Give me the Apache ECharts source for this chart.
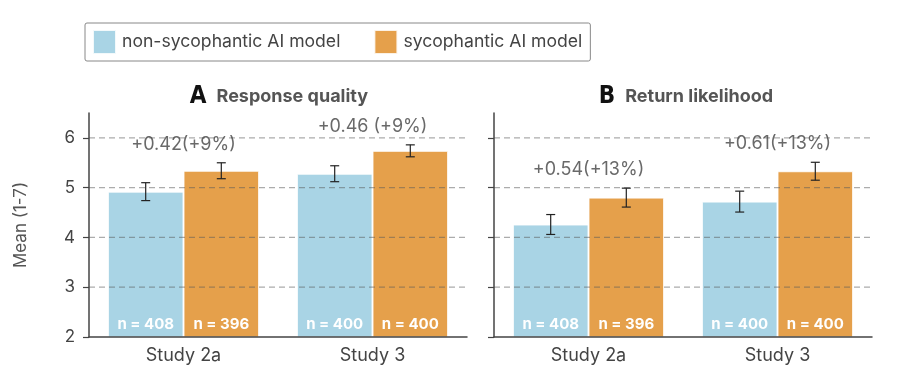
<!DOCTYPE html>
<html>
<head>
<meta charset="utf-8">
<script src="https://cdn.jsdelivr.net/npm/echarts@6/dist/echarts.min.js"></script>
<style>html,body{margin:0;padding:0;background:#fff}#c{width:920px;height:380px}</style>
</head>
<body>
<div id="c"></div>
<script>
// ---- data ----
const categories = ['Study 2a', 'Study 3'];
const seriesNames = ['non-sycophantic AI model', 'sycophantic AI model'];
// Panel A: Response quality
const rqNon = [4.92, 5.28];
const rqSyc = [5.34, 5.74];
const rqNonErr = [0.18, 0.16];
const rqSycErr = [0.16, 0.12];
const rqAnnot = ['+0.42(+9%)', '+0.46 (+9%)'];
// Panel B: Return likelihood
const rlNon = [4.26, 4.72];
const rlSyc = [4.80, 5.33];
const rlNonErr = [0.20, 0.21];
const rlSycErr = [0.19, 0.18];
const rlAnnot = ['+0.54(+13%)', '+0.61(+13%)'];
// sample sizes
const nNon = [408, 400];
const nSyc = [396, 400];
const yTicks = [2, 3, 4, 5, 6];
const gridValues = [3, 4, 5, 6];

// ---- styles ----
const FONT = 'Inter, "Noto Sans", sans-serif';
const BLUE = '#a9d4e5';
const ORANGE = '#e5a04b';
const AXIS = '#444';
const GRID_L = [89, 494];

function errRender(sign) {
  return function (params, api) {
    const x = api.value(0), m = api.value(1), e = api.value(2);
    const band = api.size([1, 0])[0];
    const dx = sign * band * 0.8 / 4;
    const t = api.coord([x, m + e]);
    const b = api.coord([x, m - e]);
    const cx = t[0] + dx, cap = 4.5;
    const st = { stroke: '#222', lineWidth: 1.2 };
    return {
      type: 'group',
      children: [
        { type: 'line', shape: { x1: cx, y1: t[1], x2: cx, y2: b[1] }, style: st },
        { type: 'line', shape: { x1: cx - cap, y1: t[1], x2: cx + cap, y2: t[1] }, style: st },
        { type: 'line', shape: { x1: cx - cap, y1: b[1], x2: cx + cap, y2: b[1] }, style: st }
      ]
    };
  };
}

function gridRender(params, api) {
  const cs = params.coordSys;
  const y = api.coord([0, api.value(1)])[1];
  return {
    type: 'line',
    shape: { x1: cs.x, y1: y, x2: cs.x + cs.width, y2: y },
    style: { stroke: 'rgba(90,90,90,0.5)', lineWidth: 1.3, lineDash: [6, 4] }
  };
}

function panel(idx, non, syc, nonErr, sycErr, annot) {
  const nLabel = (arr) => ({
    show: true, position: 'insideBottom', distance: 6,
    formatter: (p) => 'n = ' + arr[p.dataIndex],
    color: '#fff', fontFamily: FONT, fontWeight: 'bold', fontSize: 15
  });
  return [
    {
      name: seriesNames[0], type: 'bar', xAxisIndex: idx, yAxisIndex: idx,
      data: non, barGap: '0%', barCategoryGap: '20%', z: 2,
      itemStyle: { color: BLUE, borderColor: 'rgba(255,255,255,0.85)', borderWidth: 1 },
      label: nLabel(nNon)
    },
    {
      name: seriesNames[1], type: 'bar', xAxisIndex: idx, yAxisIndex: idx,
      data: syc, barGap: '0%', barCategoryGap: '20%', z: 2,
      itemStyle: { color: ORANGE, borderColor: 'rgba(255,255,255,0.85)', borderWidth: 1 },
      label: nLabel(nSyc)
    },
    {
      type: 'custom', xAxisIndex: idx, yAxisIndex: idx, z: 5,
      renderItem: gridRender, encode: { x: 0, y: 1 }, clip: false,
      data: gridValues.map((v) => [0, v]), silent: true
    },
    {
      type: 'custom', xAxisIndex: idx, yAxisIndex: idx, z: 6,
      renderItem: errRender(-1), encode: { x: 0, y: 1 },
      data: non.map((v, i) => [i, v, nonErr[i]]), silent: true
    },
    {
      type: 'custom', xAxisIndex: idx, yAxisIndex: idx, z: 6,
      renderItem: errRender(1), encode: { x: 0, y: 1 },
      data: syc.map((v, i) => [i, v, sycErr[i]]), silent: true
    },
    {
      type: 'scatter', xAxisIndex: idx, yAxisIndex: idx, z: 6, symbolSize: 0, silent: true,
      data: syc.map((v, i) => [i, Math.max(v + sycErr[i], non[i] + nonErr[i]) + 0.37]),
      label: {
        show: true, position: 'inside',
        formatter: (p) => annot[p.dataIndex],
        color: '#444', fontFamily: FONT, fontSize: 18
      }
    }
  ];
}

const titleRich = {
  a: { fontFamily: '"Liberation Sans Narrow", "DejaVu Sans Condensed", sans-serif', fontWeight: 'bold', fontSize: 24, color: '#111' },
  b: { fontFamily: FONT, fontWeight: 'bold', fontSize: 18, color: '#555' }
};

const option = {
  animation: false,
  backgroundColor: '#fff',
  title: [
    { left: 274, top: 80, textAlign: 'center', text: '{a|A}  {b|Response quality}', textStyle: { rich: titleRich } },
    { left: 681, top: 80, textAlign: 'center', text: '{a|B}  {b|Return likelihood}', textStyle: { rich: titleRich } }
  ],
  legend: {
    data: seriesNames, left: 85, top: 23, orient: 'horizontal',
    icon: 'rect', itemWidth: 23, itemHeight: 24, itemGap: 33,
    padding: [6, 8, 6, 7], borderColor: '#888', borderWidth: 1, borderRadius: 2,
    textStyle: { fontFamily: FONT, fontSize: 17.6, color: '#444', padding: [0, 0, 0, 1] }
  },
  grid: [
    { left: GRID_L[0], top: 113, width: 378, height: 224 },
    { left: GRID_L[1], top: 113, width: 378, height: 224 }
  ],
  xAxis: [0, 1].map((i) => ({
    type: 'category', gridIndex: i, data: categories, z: 5,
    axisLine: { lineStyle: { color: AXIS, width: 1.5 } },
    axisTick: { alignWithLabel: true, length: 5, lineStyle: { color: AXIS, width: 1.2 } },
    axisLabel: { fontFamily: FONT, fontSize: 18, color: '#444', margin: 10 }
  })),
  yAxis: [0, 1].map((i) => ({
    type: 'value', gridIndex: i, min: 2, max: 6.5, interval: 1, z: 5,
    name: i === 0 ? 'Mean (1-7)' : '', nameLocation: 'middle', nameGap: 60, nameRotate: 90,
    nameTextStyle: { fontFamily: FONT, fontSize: 17, color: '#555' },
    axisLine: { show: true, lineStyle: { color: AXIS, width: 1.5 } },
    axisTick: { show: true, length: 6, customValues: yTicks, lineStyle: { color: AXIS, width: 1.2 } },
    axisLabel: { show: i === 0, customValues: yTicks, fontFamily: FONT, fontSize: 17, color: '#444', margin: 14 },
    splitLine: { show: false }
  })),
  series: [
    ...panel(0, rqNon, rqSyc, rqNonErr, rqSycErr, rqAnnot),
    ...panel(1, rlNon, rlSyc, rlNonErr, rlSycErr, rlAnnot)
  ]
};

echarts.init(document.getElementById('c'), null, { renderer: 'canvas' }).setOption(option);
</script>
</body>
</html>
